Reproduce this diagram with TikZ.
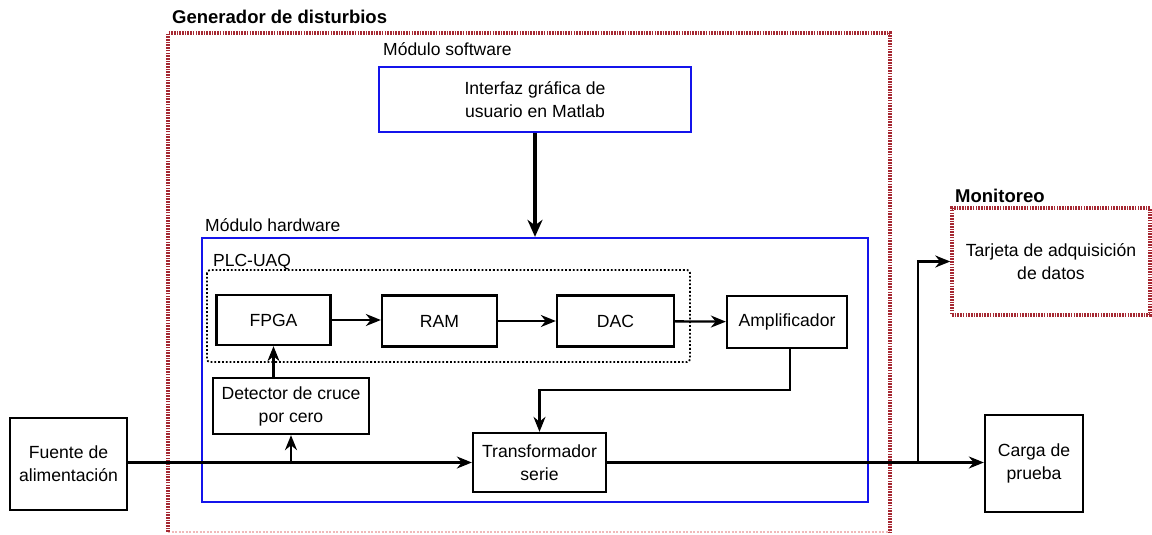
\documentclass[tikz,border=0pt]{standalone}
\usepackage{fontspec}
\setmainfont{Liberation Sans}
\usetikzlibrary{arrows.meta,calc}
\definecolor{dred}{RGB}{165,40,50}
\definecolor{lred}{RGB}{240,185,185}
\definecolor{mblue}{RGB}{20,20,235}
\begin{document}
\begin{tikzpicture}[x=1pt,y=-1pt,
  txt/.style={font=\fontsize{17.6}{23}\selectfont},
  ttl/.style={font=\fontsize{18.5}{20}\selectfont\bfseries,anchor=base west,inner sep=0pt},
  lbl/.style={font=\fontsize{17.5}{20}\selectfont,anchor=base west,inner sep=0pt},
  blk/.style={txt,draw=black,line width=2.3pt,align=center,inner sep=0pt},
  bluebox/.style={draw=mblue,line width=2.3pt},
  reddot/.style={draw=dred,line width=3.5pt,dash pattern=on 1.6pt off 1.1pt},
  conn/.style={line width=2.3pt,-{Stealth[length=15pt,width=12pt]}},
  wire/.style={line width=2.3pt}
]
\useasboundingbox (0,0) rectangle (1152,535);
% outer group
\draw[draw=lred,line width=1.5pt,dash pattern=on 2pt off 1.5pt] (168,532) -- (890,532);
\draw[reddot] (168,532) -- (168,33) -- (890,33) -- (890,532);
\node[ttl] (tgen) at (172,24) {Generador de disturbios};
% software
\node[lbl] (tsw) at (383,56) {Módulo software};
\node[txt,bluebox,minimum width=312pt,minimum height=65pt,align=center,inner sep=0pt] (sw) at (535,99.5) {Interfaz gráfica de\\usuario en Matlab};
% hardware
\node[lbl] (thw) at (205,231) {Módulo hardware};
\node[bluebox,minimum width=666pt,minimum height=264pt,inner sep=0pt] (hw) at (535,370) {};
\draw[line width=4.5pt,-{Stealth[length=17pt,width=15pt]}] (sw.south) -- (hw.north);
% PLC
\node[lbl] (tplc) at (213,266) {PLC-UAQ};
\draw[line width=1.8pt,dotted,rounded corners=3pt] (207,270) rectangle (690,362);
% blocks
\node[blk,minimum width=114pt,minimum height=50pt] (fpga) at (273.5,320) {FPGA};
\node[blk,minimum width=115pt,minimum height=51pt] (ram) at (439.5,321) {RAM};
\node[blk,minimum width=117pt,minimum height=51pt] (dac) at (615.5,321) {DAC};
\node[blk,minimum width=120pt,minimum height=52pt] (amp) at (787,322) {Amplificador};
\node[blk,minimum width=156pt,minimum height=56pt] (det) at (291,406) {Detector de cruce\\por cero};
\node[blk,minimum width=133pt,minimum height=59pt] (trans) at (539.5,462.5) {Transformador\\serie};
\node[blk,minimum width=117pt,minimum height=92pt] (fuente) at (68.5,464) {Fuente de\\alimentación};
\node[blk,minimum width=98pt,minimum height=97pt] (carga) at (1034,463.5) {Carga de\\prueba};
% monitoreo
\node[ttl] (tmon) at (955,202) {Monitoreo};
\node[txt,reddot,minimum width=198pt,minimum height=107pt,align=center,inner sep=0pt] (mon) at (1051,261.5) {Tarjeta de adquisición\\de datos};
% connectors
\draw[conn] (fpga.east) -- (fpga.east -| ram.west);
\draw[conn] (ram) -- (dac);
\draw[conn] (dac) -- (amp);
\coordinate (a1) at (790,390);
\draw[conn] (amp.south -| a1) -- (a1) -| (trans.north);
\draw[conn] (fuente.east |- trans.west) -- (trans.west);
\coordinate (b1) at (291,464);
\draw[conn] (b1) -- (det.south);
\draw[conn] (det.north -| fpga.south) -- (fpga.south);
\draw[conn] (trans.east) -- (carga.west |- trans.east);
\coordinate (c1) at (918,462.5);
\draw[conn] (c1) |- (mon.west);
\end{tikzpicture}
\end{document}
